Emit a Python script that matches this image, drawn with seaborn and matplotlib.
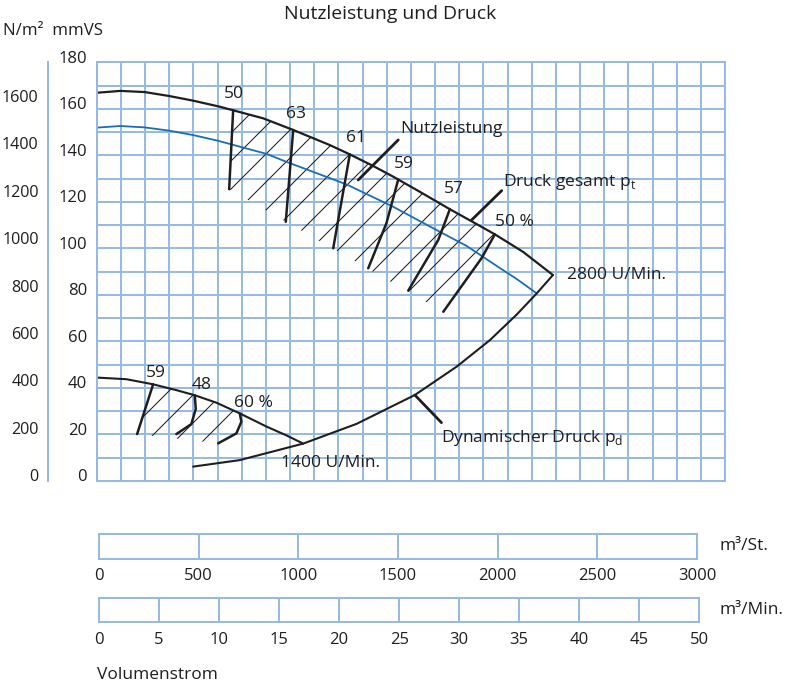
import numpy as np
import matplotlib.pyplot as plt
import matplotlib.transforms as mtransforms
import seaborn as sns

DPI = 84                 # hatch spacing follows the dpi, 84 gives the reference density
F = 100 / DPI            # sizes below are written for a 100 dpi figure

sns.set_theme(style="white")
plt.rcParams['font.family'] = ['Open Sans', 'DejaVu Sans']
plt.rcParams['hatch.linewidth'] = 0.75 * F
plt.rcParams['hatch.color'] = '#1e1e1e'

GRID = '#94b9e3'
BLUE = '#1a6db5'
INK = '#1e1e1e'

# ---------- data (x: Volumenstrom m³/St., y: mmVS) ----------
# Druck gesamt p_t, 2800 U/Min.
pt2800_q = [0, 118, 240, 362, 482, 615, 832, 982, 1165, 1265, 1382, 1482, 1615, 1765, 1874, 1990, 2132, 2280]
pt2800_p = [166.9, 167.7, 167.2, 165.5, 163.5, 160.9, 155.9, 150.9, 144.4, 140.4, 135.4, 130.8, 124.3, 116.8, 111.6, 106.0, 98.4, 88.5]

# blue curve, 2800 U/Min.
blue_q = [0, 118, 240, 362, 482, 604, 849, 948, 1248, 1481, 1682, 1849, 2015, 2099, 2199]
blue_p = [151.9, 152.6, 152.0, 150.6, 148.7, 146.3, 140.6, 137.2, 127.5, 117.9, 108.6, 101.0, 91.5, 86.8, 80.6]

# Dynamischer Druck p_d
pd_q = [482, 715, 1032, 1299, 1590, 1799, 1965, 2099, 2199, 2280]
pd_p = [6.1, 8.9, 16.0, 24.5, 36.9, 49.1, 60.5, 71.5, 80.6, 88.5]

# Druck gesamt, 1400 U/Min.
pt1400_q = [0, 148, 282, 398, 490, 598, 715, 849, 949, 1032]
pt1400_p = [44.4, 43.7, 41.5, 39.0, 36.8, 33.6, 29.0, 23.3, 19.5, 16.0]

# efficiency lines (Wirkungsgrad %), 2800 U/Min.
eff2800_labels = ['50', '63', '61', '59', '57', '50 %']
eff2800_lines = [
    ([682, 662], [159.4, 125.4]),
    ([982, 945], [150.9, 111.4]),
    ([1265, 1223, 1182], [140.4, 120.0, 100.0]),
    ([1507, 1448, 1357], [129.6, 110.8, 91.4]),
    ([1765, 1707, 1557], [116.8, 103.6, 81.8]),
    ([1990, 1923, 1732], [106.0, 95.7, 72.7]),
]
eff2800_label_q = [685, 998, 1295, 1535, 1785, 2090]
eff2800_label_p = [166.2, 157.6, 147.6, 136.3, 125.4, 111.2]

# efficiency lines, 1400 U/Min.
eff1400_labels = ['59', '48', '60 %']
eff1400_lines = [
    ([282, 202], [41.5, 20.1]),
    ([490, 495, 473, 398], [36.8, 30.9, 24.4, 20.1]),
    ([715, 723, 698, 607], [29.0, 25.4, 20.4, 16.1]),
]
eff1400_label_q = [295, 523, 785]
eff1400_label_p = [46.5, 41.2, 33.6]

# scales
npm_ticks = [0, 200, 400, 600, 800, 1000, 1200, 1400, 1600]
mmvs_ticks = list(range(0, 181, 20))
q_hour_ticks = [0, 500, 1000, 1500, 2000, 2500, 3000]
q_min_ticks = [0, 5, 10, 15, 20, 25, 30, 35, 40, 45, 50]

W, H = 787, 683
fig = plt.figure(figsize=(W / DPI, H / DPI), dpi=DPI)

FS = 12.5 * F       # general text
LW_GRID = 1.4 * F


def px_box(x0, y0, x1, y1):
    return [x0 / W, 1 - y1 / H, (x1 - x0) / W, (y1 - y0) / H]


# ---------- main chart ----------
ax = fig.add_axes(px_box(96.7, 62.3, 725, 480.8))
ax.set_xlim(0, 3140)
ax.set_ylim(0, 180)
ax.set_xticks(np.linspace(0, 3140, 27))
ax.set_yticks(range(0, 181, 10))
ax.grid(True, color=GRID, lw=LW_GRID)
ax.set_axisbelow(True)
for s in ax.spines.values():
    s.set_color(GRID)
    s.set_linewidth(LW_GRID)
ax.tick_params(length=0, labelbottom=False, labelleft=False)

# mmVS labels
ax_mm = fig.add_axes(px_box(96.7, 62.3, 96.8, 480.8))
ax_mm.set_ylim(0, 180)
ax_mm.set_yticks(mmvs_ticks)
ax_mm.set_xticks([])
for s in ax_mm.spines.values():
    s.set_visible(False)
ax_mm.tick_params(axis='y', length=0, pad=7 * F, labelsize=12 * F, labelcolor=INK)
ax_mm.patch.set_alpha(0)

# N/m² scale
ax_n = fig.add_axes(px_box(47.7, 62.3, 47.8, 480.8))
ax_n.set_ylim(0, 180 * 9.81)
ax_n.set_yticks(npm_ticks)
ax_n.set_xticks([])
for k, s in ax_n.spines.items():
    s.set_visible(k == 'left')
ax_n.spines['left'].set_color(GRID)
ax_n.spines['left'].set_linewidth(LW_GRID)
ax_n.tick_params(axis='y', length=0, pad=6.5 * F, labelsize=11.6 * F, labelcolor=INK)
ax_n.patch.set_alpha(0)

lift = mtransforms.ScaledTranslation(0, 5.5 / DPI, fig.dpi_scale_trans)
for a in (ax_mm, ax_n):
    for lab in a.get_yticklabels():
        lab.set_transform(lab.get_transform() + lift)


def hatch_area(curve_q, curve_p, left, right):
    q0, q1 = left[0][0], right[0][0]
    inner = [(q, p) for q, p in zip(curve_q, curve_p) if q0 < q < q1]
    xs = [q0] + [q for q, _ in inner] + right[0] + [left[0][-1]]
    ys = [left[1][0]] + [p for _, p in inner] + right[1] + [left[1][-1]]
    ax.fill(xs, ys, facecolor='none', edgecolor=INK, lw=0, hatch='/')


hatch_area(pt2800_q, pt2800_p, eff2800_lines[0], eff2800_lines[-1])
hatch_area(pt1400_q, pt1400_p, eff1400_lines[0], eff1400_lines[-1])

# curves
sns.lineplot(x=blue_q, y=blue_p, sort=False, estimator=None, color=BLUE, lw=1.3 * F, ax=ax)
sns.lineplot(x=pt2800_q, y=pt2800_p, sort=False, estimator=None, color=INK, lw=1.6 * F, ax=ax)
sns.lineplot(x=pd_q, y=pd_p, sort=False, estimator=None, color=INK, lw=1.5 * F, ax=ax)
sns.lineplot(x=pt1400_q, y=pt1400_p, sort=False, estimator=None, color=INK, lw=1.5 * F, ax=ax)
for xs, ys in eff2800_lines + eff1400_lines:
    sns.lineplot(x=xs, y=ys, sort=False, estimator=None, color=INK, lw=1.8 * F, ax=ax)

for lab, q, p in zip(eff2800_labels + eff1400_labels,
                     eff2800_label_q + eff1400_label_q,
                     eff2800_label_p + eff1400_label_p):
    ax.text(q, p, lab, ha='center', va='center', fontsize=FS, color=INK)

# callouts: text, pointer start, pointer end, text position
callouts = [
    ('Nutzleistung', (1307, 129.4), (1507, 146.6), (1518, 151.1)),
    (r'Druck gesamt p$_\mathregular{t}$', (1874, 112.2), (2024, 124.8), (2030, 128.7)),
    (r'Dynamischer Druck p$_\mathregular{d}$', (1590, 36.9), (1723, 25.0), (1723, 18.3)),
]
for txt, a, b, pos in callouts:
    ax.plot([a[0], b[0]], [a[1], b[1]], color=INK, lw=2 * F)
    ax.text(pos[0], pos[1], txt, ha='left', va='center', fontsize=FS, color=INK)

ax.text(2348, 88.5, '2800 U/Min.', ha='left', va='center', fontsize=FS, color=INK)
ax.text(923, 7.5, '1400 U/Min.', ha='left', va='center', fontsize=FS, color=INK)
ax.set_xlabel('')
ax.set_ylabel('')

# ---------- Volumenstrom scales ----------
for box, ticks, unit in [((99, 534.3, 697, 558.7), q_hour_ticks, 'm³/St.'),
                         ((99, 598.3, 699.3, 622.3), q_min_ticks, 'm³/Min.')]:
    sx = fig.add_axes(px_box(*box))
    sx.set_xlim(ticks[0], ticks[-1])
    sx.set_ylim(0, 1)
    sx.set_xticks(ticks)
    sx.set_yticks([])
    sx.grid(axis='x', color=GRID, lw=LW_GRID)
    for s in sx.spines.values():
        s.set_color(GRID)
        s.set_linewidth(LW_GRID)
    sx.tick_params(axis='x', length=0, pad=7 * F, labelsize=12 * F, labelcolor=INK)
    fig.text(719.3 / W, 1 - (box[1] + box[3]) / 2 / H, unit, ha='left', va='center',
             fontsize=FS, color=INK)

fig.text(96.7 / W, 1 - 675 / H, 'Volumenstrom', ha='left', va='center', fontsize=FS, color=INK)
fig.text(3 / W, 1 - 31 / H, 'N/m²  mmVS', ha='left', va='center', fontsize=12.2 * F, color=INK)
fig.text(390 / W, 1 - 14 / H, 'Nutzleistung und Druck', ha='center', va='center',
         fontsize=14 * F, color=INK)

fig.savefig('out.png', dpi=DPI)
